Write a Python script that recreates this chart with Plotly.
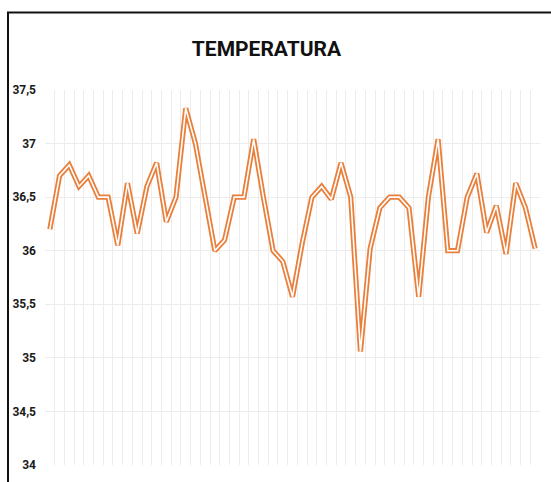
import plotly.graph_objects as go

# Daily temperature readings (°C)
days = list(range(1, 52))
temperatura = [
    36.2, 36.7, 36.8, 36.6, 36.7, 36.5, 36.5, 36.05, 36.63, 36.16,
    36.6, 36.82, 36.27, 36.5, 37.33, 37.0, 36.5, 36.0, 36.1, 36.5,
    36.5, 37.04, 36.5, 36.0, 35.9, 35.57, 36.07, 36.5, 36.6, 36.48,
    36.82, 36.5, 35.06, 36.02, 36.4, 36.5, 36.5, 36.4, 35.57, 36.5,
    37.04, 36.0, 36.0, 36.5, 36.72, 36.17, 36.42, 35.97, 36.63, 36.4,
    36.02,
]
y_ticks = [34, 34.5, 35, 35.5, 36, 36.5, 37, 37.5]

W, H = 551, 482
ML, MR, MT, MB = 45, 11, 90, 17
plot_w = W - ML - MR
plot_h = H - MT - MB

ORANGE = "#E97F3A"
FONT = "Roboto, 'DejaVu Sans Condensed', sans-serif"

fig = go.Figure()
# compound (double) line: thick orange stroke with a thin white core
fig.add_trace(go.Scatter(x=days, y=temperatura, mode="lines",
                         line=dict(color=ORANGE, width=5.2), hoverinfo="skip",
                         showlegend=False))
fig.add_trace(go.Scatter(x=days, y=temperatura, mode="lines",
                         line=dict(color="white", width=1.6),
                         showlegend=False))

# outer chart frame (top and left edges visible)
fx0 = (8 - ML) / plot_w
fy1 = (H - MB - 12.5) / plot_h
fig.add_shape(type="rect", xref="paper", yref="paper",
              x0=fx0, x1=1.2, y0=-0.2, y1=fy1,
              line=dict(color="#111111", width=2), layer="above")

fig.update_layout(
    width=W, height=H,
    margin=dict(l=ML, r=MR, t=MT, b=MB),
    paper_bgcolor="white", plot_bgcolor="white",
    separators=",.",
    title=dict(text="<b>TEMPERATURA</b>", x=266.5 / W, xanchor="center",
               y=1 - 49 / H, yanchor="middle",
               font=dict(family=FONT, size=21, color="#111111")),
    xaxis=dict(range=[0.5, len(days) + 0.5], tickmode="array",
               tickvals=[d + 0.5 for d in range(0, len(days) + 1)],
               showticklabels=False, ticks="", showgrid=True,
               gridcolor="#ececec", gridwidth=1, zeroline=False,
               showline=False, fixedrange=True),
    yaxis=dict(range=[34, 37.5], tickmode="array", tickvals=y_ticks,
               showgrid=True, gridcolor="#ececec", gridwidth=1,
               zeroline=False, showline=False, ticks="",
               ticklabelstandoff=8,
               tickfont=dict(family=FONT, size=12, color="#1a1a1a",
                             weight="bold")),
)

fig.write_html("out.html")
